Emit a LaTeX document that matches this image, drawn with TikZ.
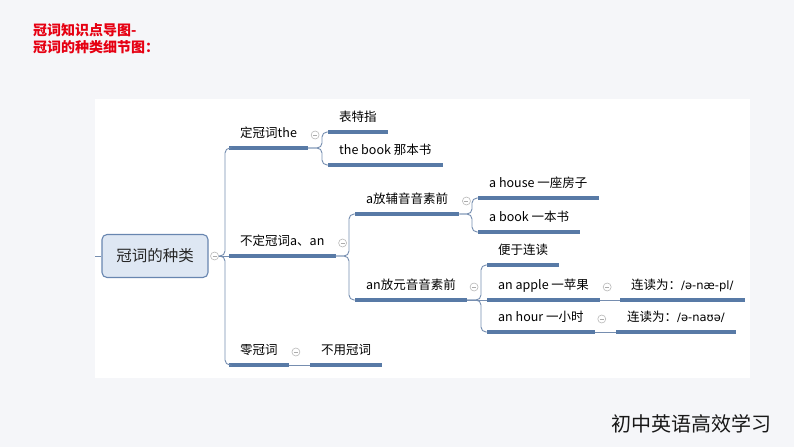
\documentclass[tikz,border=0pt]{standalone}
\usepackage{fontspec}
\setmainfont{Noto Sans CJK SC}
\newfontfamily\ipafont{DejaVu Sans}
\usetikzlibrary{calc}
\definecolor{bgcol}{RGB}{245,246,249}
\definecolor{ulcol}{RGB}{88,122,166}
\definecolor{lkcol}{RGB}{118,142,176}
\definecolor{rootfill}{RGB}{222,231,243}
\definecolor{rootdraw}{RGB}{104,134,176}
\definecolor{titlered}{RGB}{230,0,18}
\tikzset{
    topic/.style={anchor=south west, inner xsep=11pt, inner ysep=8pt, text height=10pt, text depth=2pt, font=\fontsize{12.5}{14}\selectfont, text=black},
    uline/.style={draw=ulcol, line width=3.2pt},
    link/.style={draw=lkcol, line width=0.9pt, rounded corners=5pt},
    fold/.style={circle, draw=gray!55, line width=0.6pt, fill=white, inner sep=0pt, minimum size=8pt,
        path picture={\draw[gray!65, line width=0.6pt] ([xshift=-2pt]path picture bounding box.center) -- ([xshift=2pt]path picture bounding box.center);}}
}

\begin{document}
\begin{tikzpicture}[x=1pt, y=-1pt,
        % Caja central
        root/.style={rectangle, rounded corners=5pt, draw=rootdraw, line width=1.1pt, fill=rootfill,
            minimum width=106pt, minimum height=43pt, font=\fontsize{15.5}{18}\selectfont, text=black!85},
        title/.style={align=left, inner sep=0pt, text=titlered, font=\fontsize{14}{17}\selectfont\bfseries}
    ]

    % Fondo y panel blanco
    \fill[bgcol] (0,0) rectangle (794,447);
    \fill[white] (95,99) rectangle (750,378);

    % Titulo
    \node[title, anchor=north west] (title) at (33,23) {冠词知识点导图-\\冠词的种类细节图：};

    % Nodo raiz
    \node[root] (root) at (155,256) {冠词的种类};
    \coordinate (edge) at (95,256);
    \node[fold] (froot) at ($(root.east)+(6,0)$) {};

    % Primer nivel
    \node[topic] (def) at (229,148) {定冠词the};
    \node[topic] (indef) at (229,256) {不定冠词a、an};
    \node[topic] (zero) at (229,365) {零冠词};

    % Segundo nivel
    \node[topic] (spec) at (328,132) {表特指};
    \node[topic] (thebook) at (328,165) {the book 那本书};
    \node[topic] (cons) at (355,214) {a放辅音音素前};
    \node[topic] (vow) at (355,300) {an放元音音素前};
    \node[topic] (nouse) at (310,365) {不用冠词};

    % Tercer nivel
    \node[topic] (house) at (478,198) {a house 一座房子};
    \node[topic] (abook) at (478,232) {a book 一本书};
    \node[topic] (easy) at (487,265) {便于连读};
    \node[topic] (apple) at (487,300) {an apple 一苹果};
    \node[topic] (hour) at (487,332) {an hour 一小时};

    % Cuarto nivel
    \node[topic] (applep) at (620,300) {连读为：{\ipafont\fontsize{11.5}{14}\selectfont/ə-næ-pl/}};
    \node[topic] (hourp) at (616,332) {连读为：{\ipafont\fontsize{11.5}{14}\selectfont/ə-naʊə/}};

    % Subrayados
    \foreach \n in {def,indef,zero,spec,thebook,cons,vow,nouse,house,abook,easy,apple,hour,applep,hourp}
        \draw[uline] (\n.south west) -- (\n.south east);

    % Botones de plegado
    \foreach \n in {def,indef,zero,cons,vow,apple,hour}
        \node[fold] (f\n) at ($(\n.south east)+(7,-13)$) {};

    % --- CONEXIONES ---
    \draw[link] (edge) -- (root.west);
    \draw[link] (froot.east) -- (indef.south west);
    \draw[link] (froot.east) -| ($(def.south west)+(-4,0)$) -- (def.south west);
    \draw[link] (froot.east) -| ($(zero.south west)+(-4,0)$) -- (zero.south west);

    \draw[link] (def.south east) -| ($(spec.south west)+(-6,0)$) -- (spec.south west);
    \draw[link] (def.south east) -| ($(thebook.south west)+(-6,0)$) -- (thebook.south west);

    \draw[link] (indef.south east) -| ($(cons.south west)+(-6,0)$) -- (cons.south west);
    \draw[link] (indef.south east) -| ($(vow.south west)+(-6,0)$) -- (vow.south west);

    \draw[link] (cons.south east) -| ($(house.south west)+(-6,0)$) -- (house.south west);
    \draw[link] (cons.south east) -| ($(abook.south west)+(-6,0)$) -- (abook.south west);

    \draw[link] (vow.south east) -| ($(easy.south west)+(-6,0)$) -- (easy.south west);
    \draw[link] (vow.south east) -- (apple.south west);
    \draw[link] (vow.south east) -| ($(hour.south west)+(-6,0)$) -- (hour.south west);

    \draw[link] (apple.south east) -- (applep.south west);
    \draw[link] (hour.south east) -- (hourp.south west);
    \draw[link] (zero.south east) -- (nouse.south west);

    % Marca inferior
    \node[font=\fontsize{20}{24}\selectfont, text=black!90] (brand) at (691,424) {初中英语高效学习};

\end{tikzpicture}
\end{document}
